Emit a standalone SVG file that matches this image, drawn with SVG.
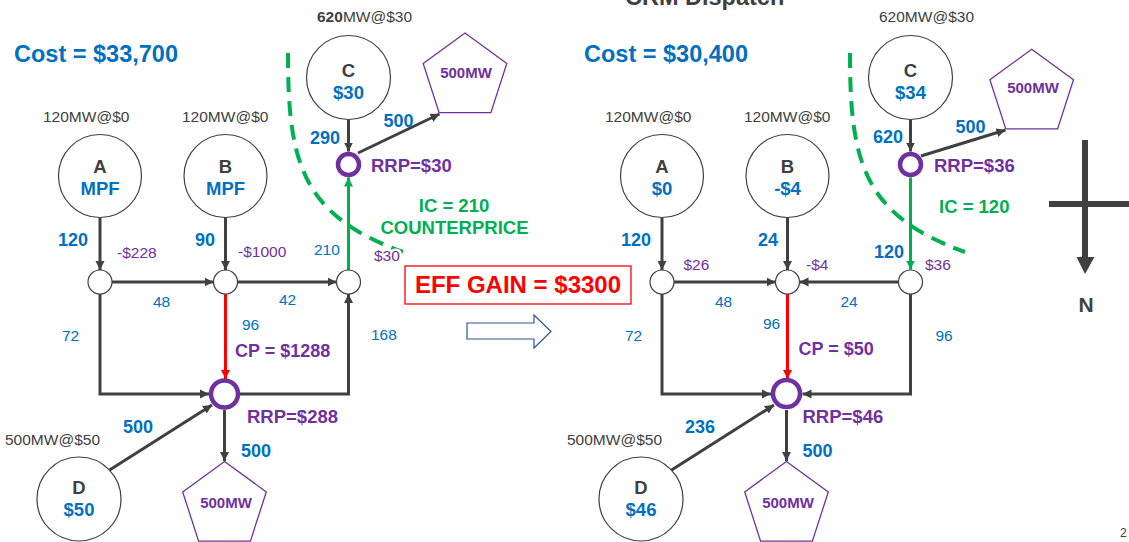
<svg xmlns="http://www.w3.org/2000/svg" width="1129" height="542" viewBox="0 0 1129 542">
<style>
text{font-family:"Liberation Sans",Arial,sans-serif}
.cost{font-size:23.5px;font-weight:bold;fill:#0070C0}
.cap{font-size:15.5px;fill:#404040}
.ltr{font-size:18.5px;font-weight:bold;fill:#404040;text-anchor:middle}
.bv{font-size:18.5px;font-weight:bold;fill:#0070C0;text-anchor:middle}
.flow{font-size:18px;font-weight:bold;fill:#0070C0}
.num{font-size:15.5px;fill:#0070C0}
.pr{font-size:15.5px;fill:#7030A0}
.pb{font-size:18.5px;font-weight:bold;fill:#7030A0}
.pent{font-size:15px;font-weight:bold;fill:#7030A0;text-anchor:middle}
.grn{font-size:18.5px;font-weight:bold;fill:#00B050}
.halo{paint-order:stroke;stroke:#fff;stroke-width:5px}
.gen{fill:#fff;stroke:#404040;stroke-width:1.2}
.jn{fill:#fff;stroke:#404040;stroke-width:1.2}
.rrp{fill:#fff;stroke:#7030A0;stroke-width:4.5}
.load{fill:#fff;stroke:#7030A0;stroke-width:1.3}
.c{fill:none;stroke:#404040;stroke-width:3;marker-end:url(#ag)}
.red{fill:none;stroke:#FF0000;stroke-width:3;marker-end:url(#ar)}
.gl{fill:none;stroke:#00B050;stroke-width:3;marker-end:url(#agr)}
.dash{fill:none;stroke:#00B050;stroke-width:4;stroke-dasharray:15 9}
</style>
<defs>
<marker id="ag" markerUnits="userSpaceOnUse" markerWidth="10" markerHeight="10" refX="9" refY="5" orient="auto"><path d="M0,0.5 L9,5 L0,9.5 z" fill="#404040"/></marker>
<marker id="ar" markerUnits="userSpaceOnUse" markerWidth="10" markerHeight="10" refX="9" refY="5" orient="auto"><path d="M0,0.5 L9,5 L0,9.5 z" fill="#FF0000"/></marker>
<marker id="agr" markerUnits="userSpaceOnUse" markerWidth="10" markerHeight="10" refX="9" refY="5" orient="auto"><path d="M0,0.5 L9,5 L0,9.5 z" fill="#00B050"/></marker>
</defs>

<text x="625" y="5" style="font-size:23.5px;font-weight:bold;fill:#404040">CRM Dispatch</text>
<text x="1120" y="537" style="font-size:12px;fill:#404040">2</text>

<!-- ============ LEFT ============ -->
<g id="connectors-left">
<path class="dash" d="M288,53 C288,160 300,215 403,252"/>
<line class="c" x1="348.5" y1="119.5" x2="348.5" y2="151.5"/>
<line class="c" x1="358" y1="153" x2="439.5" y2="114"/>
<line class="gl" x1="348.5" y1="270" x2="348.5" y2="177.5"/>
<line class="c" x1="100" y1="217.5" x2="100" y2="270"/>
<line class="c" x1="225.5" y1="217.5" x2="225.5" y2="270"/>
<line class="c" x1="112" y1="282" x2="213.5" y2="282"/>
<line class="c" x1="237.5" y1="282" x2="336.5" y2="282"/>
<path class="c" d="M100,294 V394 H209"/>
<line class="red" x1="225.5" y1="294" x2="225.5" y2="379"/>
<path class="c" d="M240,394 H348.5 V294"/>
<line class="c" x1="224.5" y1="410" x2="224.5" y2="461"/>
<line class="c" x1="108" y1="471" x2="212" y2="405"/>
</g>

<text class="cost" x="14" y="62">Cost = $33,700</text>

<g id="C-left">
<text x="317" y="22" class="cap"><tspan font-weight="bold">620</tspan>MW@$30</text>
<circle class="gen" cx="348.5" cy="77.5" r="42"/>
<text class="ltr" x="348.5" y="77">C</text>
<text class="bv" x="348.5" y="98.5">$30</text>
</g>
<g id="load-top-left">
<polygon class="load" points="465,33 506.8,63.4 490.9,112.6 439.1,112.6 423.2,63.4"/>
<text class="pent" x="466" y="77.7">500MW</text>
</g>
<g id="A-left">
<text class="cap" x="43" y="121.5">120MW@$0</text>
<circle class="gen" cx="100" cy="176" r="41.5"/>
<text class="ltr" x="100" y="173">A</text>
<text class="bv" x="100" y="195">MPF</text>
</g>
<g id="B-left">
<text class="cap" x="182" y="121.5">120MW@$0</text>
<circle class="gen" cx="225.5" cy="176" r="41.5"/>
<text class="ltr" x="225.5" y="173">B</text>
<text class="bv" x="225.5" y="195">MPF</text>
</g>
<g id="RRP-top-left">
<circle class="rrp" cx="348.5" cy="164.5" r="10.5"/>
<text class="pb" x="371" y="171.7">RRP=$30</text>
</g>
<g id="junctions-left">
<circle class="jn" cx="100" cy="282" r="12"/>
<circle class="jn" cx="225.5" cy="282" r="12"/>
<circle class="jn" cx="348.5" cy="282" r="12"/>
</g>
<g id="RRP-bottom-left">
<circle class="rrp" cx="224.5" cy="394" r="13.5"/>
<text class="pb" x="247" y="423.3">RRP=$288</text>
</g>
<g id="D-left">
<text class="cap" x="5" y="445">500MW@$50</text>
<circle class="gen" cx="79" cy="499" r="42"/>
<text class="ltr" x="79" y="494.3">D</text>
<text class="bv" x="79" y="516">$50</text>
</g>
<g id="load-bottom-left">
<polygon class="load" points="224.5,461.5 266.3,491.9 250.4,541.1 198.6,541.1 182.7,491.9"/>
<text class="pent" x="226" y="507.7">500MW</text>
</g>
<g id="labels-left">
<text class="flow" x="310" y="144">290</text>
<text class="flow" x="383.5" y="126.7">500</text>
<text class="flow" x="58" y="246">120</text>
<text class="pr" x="117" y="257.7">-$228</text>
<text class="flow" x="195" y="246">90</text>
<text class="pr" x="238" y="257">-$1000</text>
<text class="num" x="314" y="255">210</text>
<text class="pr halo" x="374" y="260.7">$30</text>
<text class="grn" x="454" y="212.3" text-anchor="middle">IC = 210</text>
<text class="grn" x="454.5" y="234.3" text-anchor="middle">COUNTERPRICE</text>
<text class="num" x="153" y="307">48</text>
<text class="num" x="279" y="305">42</text>
<text class="num" x="62" y="341">72</text>
<text class="num" x="242" y="330">96</text>
<text class="pb" x="235" y="357" style="font-size:18px">CP = $1288</text>
<text class="num" x="371" y="340">168</text>
<text class="flow" x="123" y="433">500</text>
<text class="flow" x="241" y="457">500</text>
</g>

<!-- ============ MIDDLE ============ -->
<g id="eff-gain">
<rect x="405" y="266" width="226" height="38" fill="#fff" stroke="#FF0000" stroke-width="1.3"/>
<text x="518" y="293.3" text-anchor="middle" style="font-size:24px;font-weight:bold;fill:#FF0000">EFF GAIN = $3300</text>
</g>
<polygon id="transition-arrow" points="467,323 534,323 534,315 551,331.5 534,348 534,339 467,339" fill="#fff" stroke="#2F5597" stroke-width="1.2"/>

<!-- ============ RIGHT ============ -->
<g id="connectors-right">
<path class="dash" d="M850,53 C850,160 862,215 965,252"/>
<line class="c" x1="910.5" y1="119.5" x2="910.5" y2="151.5"/>
<line class="c" x1="921" y1="156" x2="1005.5" y2="130"/>
<line class="gl" x1="910.5" y1="177.5" x2="910.5" y2="269.5"/>
<line class="c" x1="662" y1="217.5" x2="662" y2="270"/>
<line class="c" x1="787.5" y1="217.5" x2="787.5" y2="270"/>
<line class="c" x1="674" y1="282" x2="775.5" y2="282"/>
<line class="c" x1="898.5" y1="282" x2="799.5" y2="282"/>
<path class="c" d="M662,294 V394 H771"/>
<line class="red" x1="787.5" y1="294" x2="787.5" y2="379"/>
<path class="c" d="M910.5,294 V394 H802.5"/>
<line class="c" x1="786.5" y1="410" x2="786.5" y2="461"/>
<line class="c" x1="670" y1="471" x2="774" y2="405"/>
</g>

<text class="cost" x="584" y="62">Cost = $30,400</text>

<g id="C-right">
<text x="879" y="22" class="cap">620MW@$30</text>
<circle class="gen" cx="910.5" cy="77.5" r="42"/>
<text class="ltr" x="910.5" y="77">C</text>
<text class="bv" x="910.5" y="98.5">$34</text>
</g>
<g id="load-top-right">
<polygon class="load" points="1031.7,49.3 1073.5,79.7 1057.6,128.9 1005.8,128.9 989.9,79.7"/>
<text class="pent" x="1033" y="93.3">500MW</text>
</g>
<g id="A-right">
<text class="cap" x="605" y="121.5">120MW@$0</text>
<circle class="gen" cx="662" cy="176" r="41.5"/>
<text class="ltr" x="662" y="173">A</text>
<text class="bv" x="662" y="195">$0</text>
</g>
<g id="B-right">
<text class="cap" x="744" y="121.5">120MW@$0</text>
<circle class="gen" cx="787.5" cy="176" r="41.5"/>
<text class="ltr" x="787.5" y="173">B</text>
<text class="bv" x="787.5" y="195">-$4</text>
</g>
<g id="RRP-top-right">
<circle class="rrp" cx="910.5" cy="164.5" r="10.5"/>
<text class="pb" x="934" y="171.7">RRP=$36</text>
</g>
<g id="junctions-right">
<circle class="jn" cx="662" cy="282" r="12"/>
<circle class="jn" cx="787.5" cy="282" r="12"/>
<circle class="jn" cx="910.5" cy="282" r="12"/>
</g>
<g id="RRP-bottom-right">
<circle class="rrp" cx="786.5" cy="393.5" r="13.5"/>
<text class="pb" x="802.5" y="423.3">RRP=$46</text>
</g>
<g id="D-right">
<text class="cap" x="567" y="445">500MW@$50</text>
<circle class="gen" cx="641" cy="499" r="42"/>
<text class="ltr" x="641" y="494.3">D</text>
<text class="bv" x="641" y="516">$46</text>
</g>
<g id="load-bottom-right">
<polygon class="load" points="786.5,461.5 828.3,491.9 812.4,541.1 760.6,541.1 744.7,491.9"/>
<text class="pent" x="788" y="507.7">500MW</text>
</g>
<g id="labels-right">
<text class="flow" x="873" y="143.3">620</text>
<text class="flow" x="955.5" y="133.3">500</text>
<text class="grn" x="939" y="213.3">IC = 120</text>
<text class="flow" x="874" y="258.3">120</text>
<text class="pr" x="925" y="270">$36</text>
<text class="flow" x="621" y="246">120</text>
<text class="pr" x="683.5" y="270">$26</text>
<text class="flow" x="758" y="246">24</text>
<text class="pr" x="806" y="270">-$4</text>
<text class="num" x="715" y="307">48</text>
<text class="num" x="840.5" y="307">24</text>
<text class="num" x="625" y="341">72</text>
<text class="num" x="763" y="329.3">96</text>
<text class="pb" x="798.5" y="355" style="font-size:18px">CP = $50</text>
<text class="num" x="935.5" y="341">96</text>
<text class="flow" x="685" y="433.3">236</text>
<text class="flow" x="802.5" y="457.3">500</text>
</g>

<g id="compass">
<line x1="1049" y1="204" x2="1129" y2="204" stroke="#404040" stroke-width="6"/>
<line x1="1085" y1="140" x2="1085" y2="258" stroke="#404040" stroke-width="6"/>
<polygon points="1076.5,257 1094.5,257 1085,274" fill="#404040"/>
<text x="1086" y="311.7" text-anchor="middle" style="font-size:21px;font-weight:bold;fill:#404040">N</text>
</g>
</svg>
